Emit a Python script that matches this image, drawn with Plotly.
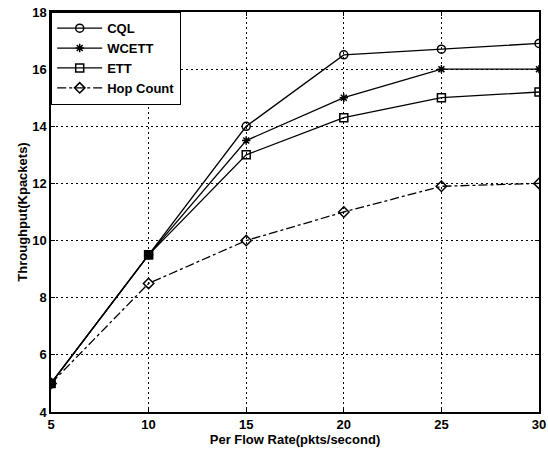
import plotly.graph_objects as go

rates = [5, 10, 15, 20, 25, 30]
cql = [5, 9.5, 14.0, 16.5, 16.7, 16.9]
wcett = [5, 9.5, 13.5, 15.0, 16.0, 16.0]
ett = [5, 9.5, 13.0, 14.3, 15.0, 15.2]
hop = [5, 8.5, 10.0, 11.0, 11.9, 12.0]

x_ticks = [5, 10, 15, 20, 25, 30]
y_ticks = [4, 6, 8, 10, 12, 14, 16, 18]

FAM = "Liberation Sans, Arial"
font = dict(family=FAM, size=13, color="black")

fig = go.Figure()
series = [
    ("CQL", cql, "circle-open", "solid", 8),
    ("WCETT", wcett, "asterisk-open", "solid", 7),
    ("ETT", ett, "square-open", "solid", 8),
    ("Hop Count", hop, "diamond-open", "dashdot", 8),
]
for name, ys, sym, dash, sz in series:
    fig.add_trace(go.Scatter(
        x=rates, y=ys, name=name, mode="lines+markers", legendgroup=name,
        line=dict(color="black", width=1.3, dash=dash),
        marker=dict(symbol=sym, size=sz, color="black", line=dict(width=1.5, color="black")),
    ))

# where all series coincide, the overlapping markers look like a filled square
fig.add_trace(go.Scatter(
    x=rates[:2], y=ett[:2], mode="markers", showlegend=False, hoverinfo="skip",
    marker=dict(symbol="square", size=9, color="black"),
))

axis_common = dict(
    showline=True, linecolor="black", linewidth=1.5, mirror="ticks",
    ticks="inside", ticklen=4, tickcolor="black",
    showgrid=True, gridcolor="black", gridwidth=1, griddash="2px,3px",
    zeroline=False, tickfont=dict(family=FAM, size=13, color="black"),
    automargin=False, ticklabeloverflow="allow",
)
fig.update_xaxes(range=[5, 30], tickvals=x_ticks, ticktext=[f"<b>{v}</b>" for v in x_ticks],
                 title=dict(text="<b>Per Flow Rate(pkts/second)</b>", standoff=2, font=font),
                 **axis_common)
fig.update_yaxes(range=[4, 18], tickvals=y_ticks, ticktext=[f"<b>{v}</b>" for v in y_ticks],
                 title=dict(text="<b>Throughput(Kpackets)</b>", standoff=2, font=font),
                 **axis_common)

fig.update_layout(
    width=548, height=459,
    margin=dict(l=51, r=9, t=12, b=47),
    plot_bgcolor="white", paper_bgcolor="white",
    font=font,
    legend=dict(x=0, y=1, xanchor="left", yanchor="top",
                bgcolor="white", bordercolor="black", borderwidth=1.2,
                font=dict(family=FAM, size=13, color="black", weight="bold"),
                itemwidth=45, tracegroupgap=0),
    showlegend=True,
)
fig.write_html("out.html")
